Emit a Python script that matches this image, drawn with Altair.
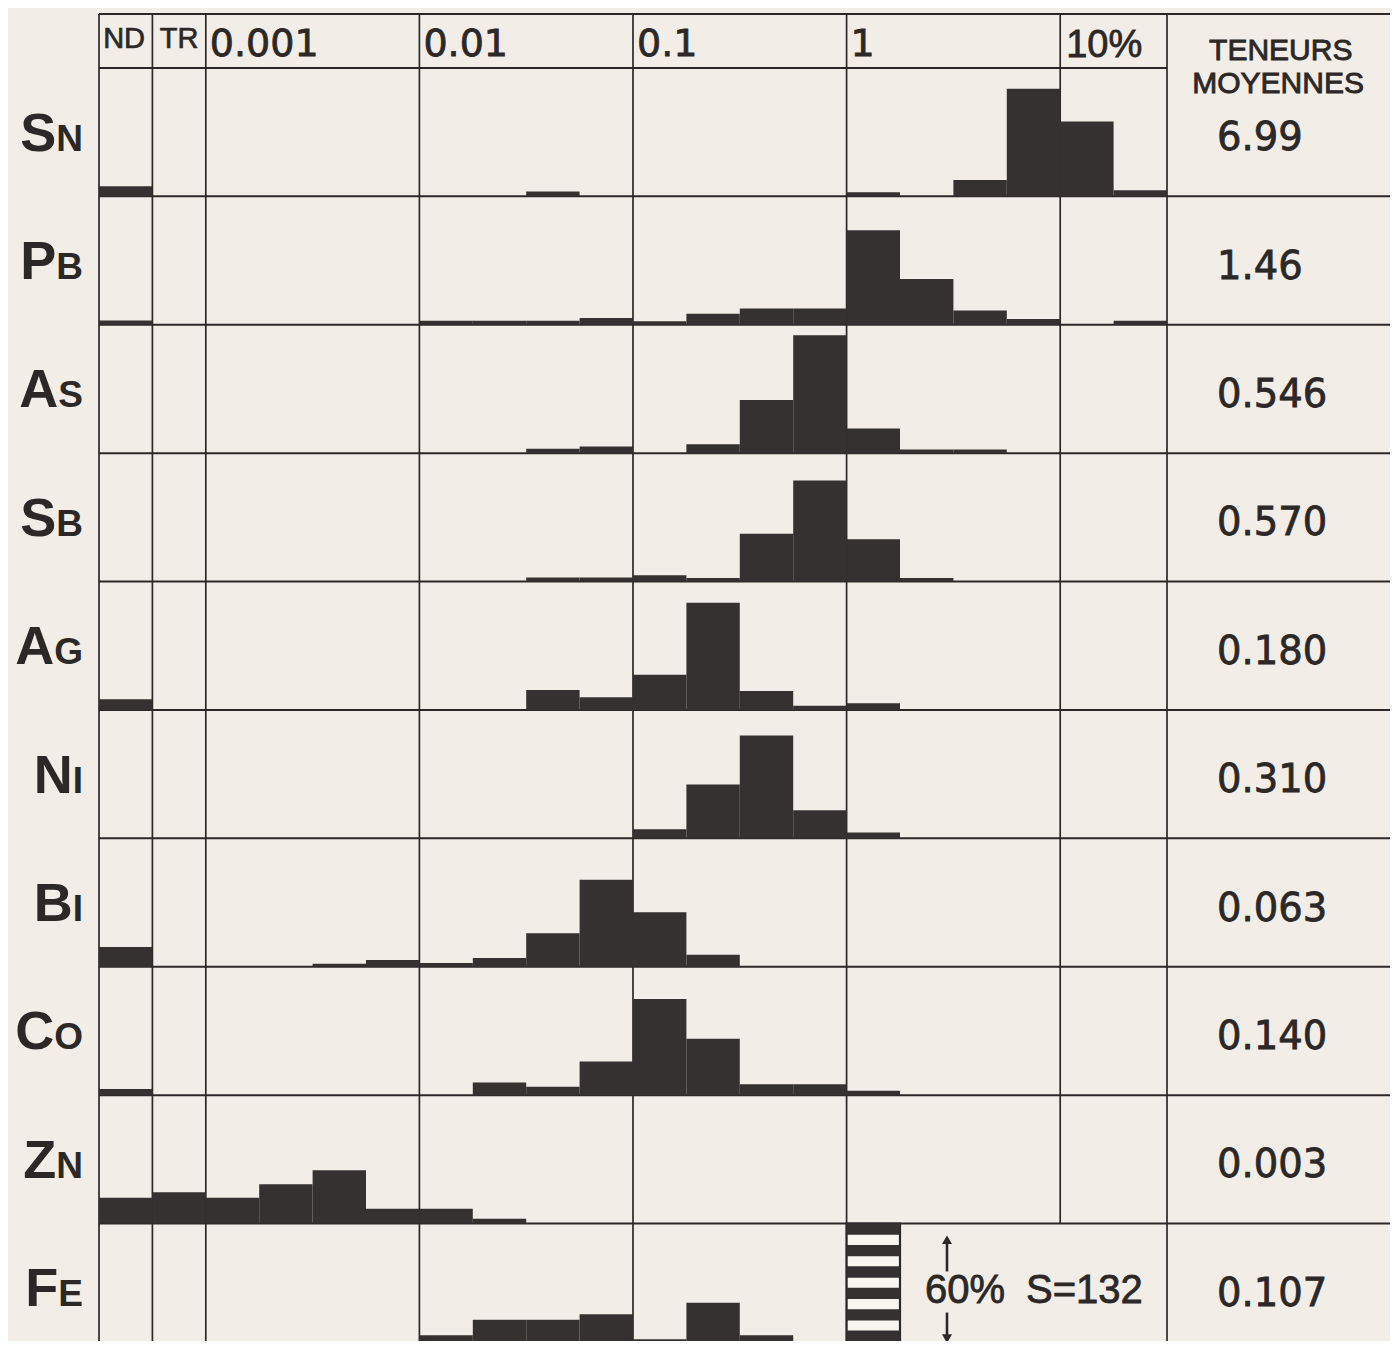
import altair as alt
import pandas as pd

# ---------------- data ----------------
elements = ["Sn", "Pb", "As", "Sb", "Ag", "Ni", "Bi", "Co", "Zn", "Fe"]
teneurs_moyennes = ["6.99", "1.46", "0.546", "0.570", "0.180", "0.310",
                    "0.063", "0.140", "0.003", "0.107"]
# classes: ND, TR, then 4 classes per decade from 0.001 % to 10 % and beyond
decade_labels = ["0.001", "0.01", "0.1", "1"]
top_label = "10%"
# frequencies (% of samples) per class, columns: ND, TR, 18 concentration classes
freq_sn = [4.7, 0, 0, 0, 0, 0, 0, 0, 2.2, 0, 0, 0, 0, 0, 1.9, 0, 7.6, 50.3, 35.0, 2.8]
freq_pb = [2.0, 0, 0, 0, 0, 0, 1.9, 1.9, 1.9, 3.1, 1.6, 5.1, 7.6, 7.6, 44.1, 21.4, 6.7, 2.7, 0, 1.9]
freq_as = [0, 0, 0, 0, 0, 0, 0, 0, 2.0, 3.1, 0, 4.2, 24.8, 55.1, 11.5, 1.7, 1.7, 0, 0, 0]
freq_sb = [0, 0, 0, 0, 0, 0, 0, 0, 1.9, 1.9, 2.9, 1.7, 22.3, 47.2, 19.8, 1.7, 0, 0, 0, 0]
freq_ag = [5.0, 0, 0, 0, 0, 0, 0, 0, 9.3, 5.9, 16.4, 50.1, 8.9, 1.9, 3.1, 0, 0, 0, 0, 0]
freq_ni = [0, 0, 0, 0, 0, 0, 0, 0, 0, 0, 4.2, 25.2, 48.1, 13.1, 2.7, 0, 0, 0, 0, 0]
freq_bi = [9.2, 0, 0, 0, 1.4, 3.1, 1.7, 4.1, 15.6, 40.7, 25.4, 5.6, 0, 0, 0, 0, 0, 0, 0, 0]
freq_co = [2.9, 0, 0, 0, 0, 0, 0, 5.9, 3.9, 15.7, 44.9, 26.3, 5.1, 5.1, 2.0, 0, 0, 0, 0, 0]
freq_zn = [12.0, 14.6, 12.1, 18.4, 24.9, 6.9, 6.9, 2.2, 0, 0, 0, 0, 0, 0, 0, 0, 0, 0, 0, 0]
freq_fe = [0, 2.5, 0, 0, 0, 2.5, 7.8, 15.0, 15.0, 17.6, 5.9, 23.0, 7.8, 3.1, 0, 0, 0, 0, 0, 0]
all_freqs = [freq_sn, freq_pb, freq_as, freq_sb, freq_ag, freq_ni, freq_bi, freq_co, freq_zn, freq_fe]
scale_bar_steps = [0, 10, 20, 30, 40, 50]      # 60 % scale bar, 10 % steps
scale_note = "60%"
sample_note = "S=132"

# ---------------- layout ----------------
ROW = 60.0          # one row spans 60 %
HEAD = 25.2         # header height in the same units
PX_X = 53.4
PX_Y = 2.14
W = 1291
H = 1327
XMAX = W / PX_X
YMAX = H / PX_Y

PAPER = "#f2eee7"
INK = "#2c2828"
BAR = "#343130"

xs = alt.Scale(domain=[0, XMAX], nice=False, zero=False)
ys = alt.Scale(domain=[0, YMAX], nice=False, zero=False, reverse=True)


def X(f):
    return alt.X(f, type="quantitative", scale=xs, axis=None)


def Y(f):
    return alt.Y(f, type="quantitative", scale=ys, axis=None)


# ---- bars ----
rows = []
for r, (el, fr) in enumerate(zip(elements, all_freqs)):
    for i, v in enumerate(fr):
        if v > 0:
            rows.append({"element": el, "row": r, "col": i, "pct": v})
bars_df = pd.DataFrame(rows)

bars = alt.Chart(bars_df).transform_calculate(
    x1="datum.col + 1",
    base=f"{HEAD} + {ROW} * (datum.row + 1)",
).transform_calculate(
    top="datum.base - datum.pct"
).mark_rect(color=BAR).encode(
    x=X("col"), x2="x1:Q", y=Y("top"), y2="base:Q"
)

# ---- grid ----
bottom = HEAD + ROW * len(elements)
g = []
g.append({"x": 0, "x2": XMAX, "y": 0, "y2": 0, "w": 2.2})
g.append({"x": 0, "x2": 20, "y": HEAD, "y2": HEAD, "w": 2.0})
for k in range(1, len(elements)):
    yy = HEAD + ROW * k
    g.append({"x": 0, "x2": XMAX, "y": yy, "y2": yy, "w": 2.0})
for c in [0, 1, 2, 6, 10, 14, 20]:
    g.append({"x": c, "x2": c, "y": 0, "y2": bottom, "w": 1.7})
g.append({"x": 18, "x2": 18, "y": 0, "y2": HEAD + ROW * 9, "w": 1.7})
grid_df = pd.DataFrame(g)
grid = alt.Chart(grid_df).mark_rule(color=INK).encode(
    x=X("x"), x2="x2:Q", y=Y("y"), y2="y2:Q",
    strokeWidth=alt.StrokeWidth("w:Q", scale=None),
)

# ---- scale bar in the Fe row ----
fe_top = HEAD + ROW * 9
sb_frame = alt.Chart(pd.DataFrame([{"x": 14, "x2": 15, "y": fe_top, "y2": fe_top + ROW}])).mark_rect(
    fill="#f8f5ef", stroke=INK, strokeWidth=2.2
).encode(x=X("x"), x2="x2:Q", y=Y("y"), y2="y2:Q")
sb_df = pd.DataFrame({"s": scale_bar_steps})
sb_stripes = alt.Chart(sb_df).transform_calculate(
    y0=f"{fe_top} + datum.s", y1=f"{fe_top} + datum.s + 5.3", x0="14", x1="15"
).mark_rect(color=BAR).encode(x=X("x0"), x2="x1:Q", y=Y("y0"), y2="y1:Q")

ax = 15.88
arrow_df = pd.DataFrame([
    {"x": ax, "y": fe_top + 7.0, "y2": fe_top + 22.4},
    {"x": ax, "y": fe_top + 41.6, "y2": fe_top + 54.5},
])
arrows = alt.Chart(arrow_df).mark_rule(color=INK, strokeWidth=2.6).encode(
    x=X("x"), y=Y("y"), y2="y2:Q")
head_up = alt.Chart(pd.DataFrame([{"x": ax, "y": fe_top + 7.6}])).mark_point(
    shape="triangle-up", filled=True, color=INK, size=100, opacity=1
).encode(x=X("x"), y=Y("y"))
head_dn = alt.Chart(pd.DataFrame([{"x": ax, "y": fe_top + 53.8}])).mark_point(
    shape="triangle-down", filled=True, color=INK, size=100, opacity=1
).encode(x=X("x"), y=Y("y"))
note_df = pd.DataFrame([
    {"t": scale_note, "x": 15.47, "y": fe_top + 37.1},
    {"t": sample_note, "x": 17.36, "y": fe_top + 37.1},
])
notes = alt.Chart(note_df).mark_text(
    font="Liberation Sans", fontSize=40, align="left", baseline="alphabetic", color=INK,
    stroke=INK, strokeWidth=0.8
).encode(x=X("x"), y=Y("y"), text="t:N")

# ---- header texts ----
nd_tr = alt.Chart(pd.DataFrame([{"t": "ND", "x": 0.47, "y": 15.9}, {"t": "TR", "x": 1.5, "y": 15.9}])).mark_text(
    font="Liberation Sans", fontSize=29, align="center", baseline="alphabetic", color=INK,
    stroke=INK, strokeWidth=0.7
).encode(x=X("x"), y=Y("y"), text="t:N")

dec_df = pd.DataFrame({"t": decade_labels, "x": [2, 6, 10, 14], "y": [19.5] * 4})
decades = alt.Chart(dec_df).mark_text(
    font="DejaVu Sans", fontSize=38, align="left", baseline="alphabetic", color=INK, dx=4,
    stroke=INK, strokeWidth=0.8
).encode(x=X("x"), y=Y("y"), text="t:N")
top_lab = alt.Chart(pd.DataFrame([{"t": top_label, "x": 18, "y": 20.0}])).mark_text(
    font="Liberation Sans", fontSize=38, align="left", baseline="alphabetic", color=INK, dx=6,
    stroke=INK, strokeWidth=0.8
).encode(x=X("x"), y=Y("y"), text="t:N")

ten_df = pd.DataFrame([{"t": "TENEURS", "y": 21.3, "x": 22.13},
                       {"t": "MOYENNES", "y": 36.7, "x": 22.08}])
teneurs = alt.Chart(ten_df).mark_text(
    font="Liberation Sans", fontSize=30, align="center", baseline="alphabetic", color=INK,
    stroke=INK, strokeWidth=0.9
).encode(x=X("x"), y=Y("y"), text="t:N")

# ---- right column values ----
val_df = pd.DataFrame({"v": teneurs_moyennes, "row": list(range(len(elements)))})
values = alt.Chart(val_df).transform_calculate(
    yb=f"{HEAD} + {ROW} * (datum.row + 1) - 21.6", xc="20"
).mark_text(
    font="DejaVu Sans", fontSize=38.5, align="left", baseline="alphabetic", color=INK, dx=50,
    stroke=INK, strokeWidth=0.8
).encode(x=X("xc"), y=Y("yb"), text="v:N")

# ---- element labels (small caps: big initial + small second letter) ----
adv = {"N": .722, "B": .722, "S": .667, "G": .778, "I": .278, "O": .778, "E": .667}
SMALL, BIG = 37, 54
lab_rows = []
for r, el in enumerate(elements):
    s = el[1].upper()
    lab_rows.append({
        "big": el[0], "small": s, "row": r,
        "xr": (83 - 99) / PX_X,
        "xj": (83 - SMALL * adv[s] - 99) / PX_X,
    })
lab_df = pd.DataFrame(lab_rows)
lab_base = alt.Chart(lab_df).transform_calculate(
    yb=f"{HEAD} + {ROW} * (datum.row + 1) - 21.4"
)
lab_small = lab_base.mark_text(
    font="Liberation Sans", fontWeight="bold", fontSize=SMALL, align="right",
    baseline="alphabetic", color=INK
).encode(x=X("xr"), y=Y("yb"), text="small:N")
lab_big = lab_base.mark_text(
    font="Liberation Sans", fontWeight="bold", fontSize=BIG, align="right",
    baseline="alphabetic", color=INK
).encode(x=X("xj"), y=Y("yb"), text="big:N")

chart = alt.layer(
    grid, sb_frame, sb_stripes, bars, arrows, head_up, head_dn, notes,
    nd_tr, decades, top_lab, teneurs, values, lab_small, lab_big
).properties(
    width=W, height=H,
    autosize=alt.AutoSizeParams(type="none"),
    padding={"left": 91, "top": 6, "right": 0, "bottom": 0},
    background=PAPER,
).configure_view(strokeWidth=0)

chart.save("out.html", embed_options={"renderer": "svg", "actions": False})
